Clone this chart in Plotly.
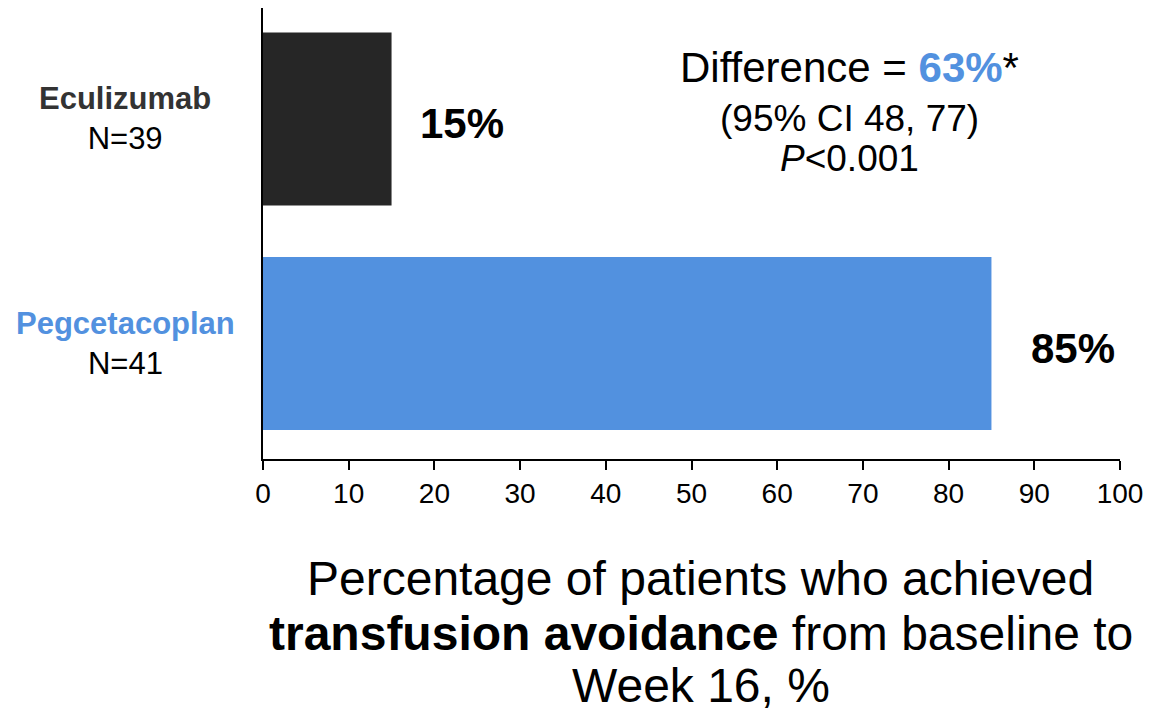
import plotly.graph_objects as go

categories = ["Pegcetacoplan", "Eculizumab"]
n_labels = ["N=41", "N=39"]
values = [85, 15]
value_labels = ["85%", "15%"]
bar_colors = ["#5291df", "#262626"]
name_colors = ["#5291df", "#333333"]
label_shift = [38, 26]
x_ticks = [0, 10, 20, 30, 40, 50, 60, 70, 80, 90, 100]
title_lines = [
    "Percentage of patients who achieved",
    "<b>transfusion avoidance</b> from baseline to",
    "Week 16, %",
]
title_y = [-0.265, -0.387, -0.503]

FONT = "Liberation Sans, Arial, sans-serif"

fig = go.Figure()
fig.add_trace(go.Bar(
    x=values, y=categories, orientation="h",
    marker=dict(color=bar_colors, line=dict(width=0)),
    width=0.77, showlegend=False, hoverinfo="skip",
))

annotations = []
for cat, n, v, vl, nc, sh in zip(categories, n_labels, values, value_labels, name_colors, label_shift):
    annotations.append(dict(
        x=-0.161, xref="paper", y=cat, yref="y", xanchor="center", yanchor="middle",
        text=f"<b><span style='color:{nc}'>{cat}</span></b><br>{n}",
        showarrow=False, align="center",
        font=dict(family=FONT, size=31, color="black"),
    ))
    annotations.append(dict(
        x=v, xref="x", y=cat, yref="y", xanchor="left", yanchor="middle",
        text=f"<b>{vl}</b>", showarrow=False, xshift=sh, yshift=-5,
        font=dict(family=FONT, size=42, color="black"),
    ))

annotations.append(dict(
    x=0.684, xref="paper", y=0.867, yref="paper", xanchor="center", yanchor="middle",
    text="Difference = <b><span style='color:#5291df'>63%</span></b>*",
    showarrow=False, font=dict(family=FONT, size=42, color="black"),
))
annotations.append(dict(
    x=0.684, xref="paper", y=0.756, yref="paper", xanchor="center", yanchor="middle",
    text="(95% CI 48, 77)", showarrow=False,
    font=dict(family=FONT, size=37, color="black"),
))
annotations.append(dict(
    x=0.684, xref="paper", y=0.667, yref="paper", xanchor="center", yanchor="middle",
    text="<i>P</i><0.001", showarrow=False,
    font=dict(family=FONT, size=37, color="black"),
))
for line, ty in zip(title_lines, title_y):
    annotations.append(dict(
        x=0.511, xref="paper", y=ty, yref="paper", xanchor="center", yanchor="middle",
        text=line, showarrow=False,
        font=dict(family=FONT, size=48, color="black"),
    ))

fig.update_layout(
    width=1152, height=716,
    margin=dict(l=255, r=40, t=0, b=265),
    paper_bgcolor="white", plot_bgcolor="white",
    annotations=annotations,
    xaxis=dict(
        range=[0, 100], tickvals=x_ticks, ticktext=[str(t) for t in x_ticks],
        showgrid=False, zeroline=False, showline=True, linecolor="black", linewidth=1.5,
        ticks="outside", ticklen=9, tickwidth=1.5, tickcolor="black",
        tickfont=dict(family=FONT, size=28, color="black"),
    ),
    yaxis=dict(
        categoryorder="array", categoryarray=categories,
        range=[-0.514, 1.494], showticklabels=False, ticks="",
        showgrid=False, zeroline=False, showline=True, linecolor="black", linewidth=1.5,
    ),
)

fig.write_html("out.html")
